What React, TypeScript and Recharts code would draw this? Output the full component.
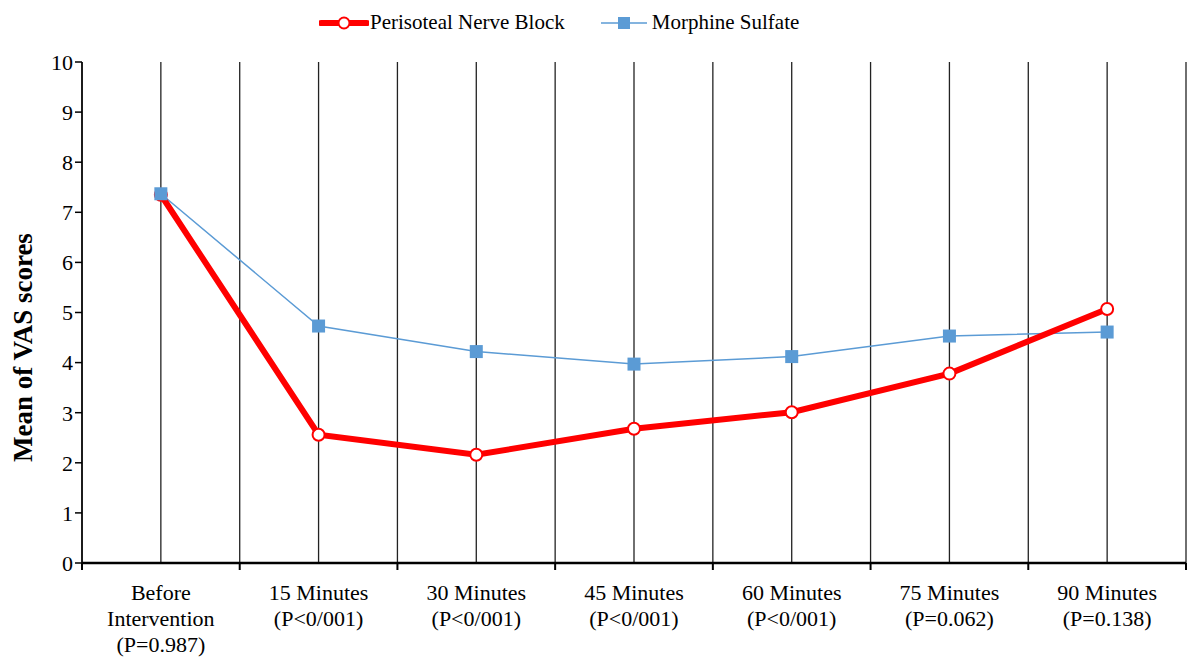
import {
  CartesianGrid,
  Line,
  LineChart,
  XAxis,
  YAxis,
} from "recharts"

const categories = [
  ["Before", "Intervention", "(P=0.987)"],
  ["15 Minutes", "(P<0/001)"],
  ["30 Minutes", "(P<0/001)"],
  ["45 Minutes", "(P<0/001)"],
  ["60 Minutes", "(P<0/001)"],
  ["75 Minutes", "(P=0.062)"],
  ["90 Minutes", "(P=0.138)"],
]
const nerveBlock = [7.35, 2.56, 2.16, 2.68, 3.01, 3.78, 5.07]
const morphine = [7.37, 4.73, 4.22, 3.97, 4.12, 4.53, 4.61]
const yTicks = [0, 1, 2, 3, 4, 5, 6, 7, 8, 9, 10]

const RED = "#ff0000"
const BLUE = "#5b9bd5"
const FONT = '"Liberation Serif", "Times New Roman", serif'

const data = categories.map((c, i) => ({
  idx: i,
  nerve: nerveBlock[i],
  morphine: morphine[i],
}))

// ticks at category centres (labels) and band edges (tick marks + gridlines)
const xTicks: number[] = []
for (let i = 0; i <= categories.length * 2; i++) xTicks.push(i / 2 - 0.5)

function XTick({ x, y, payload }: any) {
  const v = payload.value as number
  if (!Number.isInteger(v)) {
    return <line x1={x} x2={x} y1={y} y2={y + 7} stroke="#000" strokeWidth={2} />
  }
  const lines = categories[v] || []
  return (
    <text x={x} y={y} textAnchor="middle" fontFamily={FONT} fontSize={22} fill="#000">
      {lines.map((l, i) => (
        <tspan key={i} x={x} dy={i === 0 ? 37 : 26}>
          {l}
        </tspan>
      ))}
    </text>
  )
}

function SquareDot({ cx, cy }: any) {
  if (cx == null || cy == null) return null
  return <rect x={cx - 6.5} y={cy - 6.5} width={13} height={13} fill={BLUE} />
}

function YLabel({ viewBox }: any) {
  const x = 23
  const y = viewBox.y + viewBox.height / 2 + 35
  return (
    <text
      x={x}
      y={y}
      transform={`rotate(-90 ${x} ${y})`}
      textAnchor="middle"
      dominantBaseline="central"
      fontFamily={FONT}
      fontSize={27}
      fontWeight="bold"
      fill="#000"
    >
      Mean of VAS scores
    </text>
  )
}

function LegendBox() {
  return (
    <div
      style={{
        position: "absolute",
        top: 10,
        left: 319,
        display: "flex",
        alignItems: "center",
        fontFamily: FONT,
        fontSize: 21,
        color: "#000",
        whiteSpace: "nowrap",
      }}
    >
      <svg width={50} height={16}>
        <line x1={2} x2={48} y1={8} y2={8} stroke={RED} strokeWidth={6} strokeLinecap="round" />
        <circle cx={25} cy={8} r={5.5} fill="#fff" stroke={RED} strokeWidth={2} />
      </svg>
      <span style={{ marginLeft: 1 }}>Perisoteal Nerve Block</span>
      <svg width={46} height={16} style={{ marginLeft: 36 }}>
        <line x1={0} x2={46} y1={8} y2={8} stroke={BLUE} strokeWidth={1.5} />
        <rect x={17} y={2} width={12} height={12} fill={BLUE} />
      </svg>
      <span style={{ marginLeft: 5 }}>Morphine Sulfate</span>
    </div>
  )
}

export default function App() {
  return (
    <div style={{ position: "absolute", top: 0, left: 0, width: 1187, height: 661, background: "#fff" }}>
      <LegendBox />
      <LineChart
        width={1187}
        height={661}
        data={data}
        margin={{ top: 62, right: 1, left: 0, bottom: 0 }}
      >
        <CartesianGrid horizontal={false} stroke="#222" strokeWidth={1.3} />
        <XAxis
          dataKey="idx"
          type="number"
          domain={[-0.5, categories.length - 0.5]}
          ticks={xTicks}
          interval={0}
          height={98}
          tickLine={false}
          tickSize={0}
          tickMargin={0}
          tick={<XTick />}
          axisLine={{ stroke: "#000", strokeWidth: 2.5 }}
        />
        <YAxis
          domain={[0, 10]}
          ticks={yTicks}
          interval={0}
          width={82}
          tickSize={7}
          tickLine={{ stroke: "#000", strokeWidth: 1.5 }}
          axisLine={{ stroke: "#000", strokeWidth: 1.5 }}
          tick={{ fill: "#000", fontSize: 22, fontFamily: FONT }}
          label={<YLabel />}
        />
        <Line
          dataKey="morphine"
          stroke={BLUE}
          strokeWidth={1.5}
          dot={false}
          isAnimationActive={false}
        />
        <Line
          dataKey="nerve"
          stroke={RED}
          strokeWidth={6}
          dot={{ r: 6, fill: "#fff", stroke: RED, strokeWidth: 2 }}
          isAnimationActive={false}
        />
        {/* morphine markers drawn last so they sit above the red circles */}
        <Line
          dataKey="morphine"
          stroke="none"
          dot={<SquareDot />}
          legendType="none"
          isAnimationActive={false}
        />
      </LineChart>
    </div>
  )
}
